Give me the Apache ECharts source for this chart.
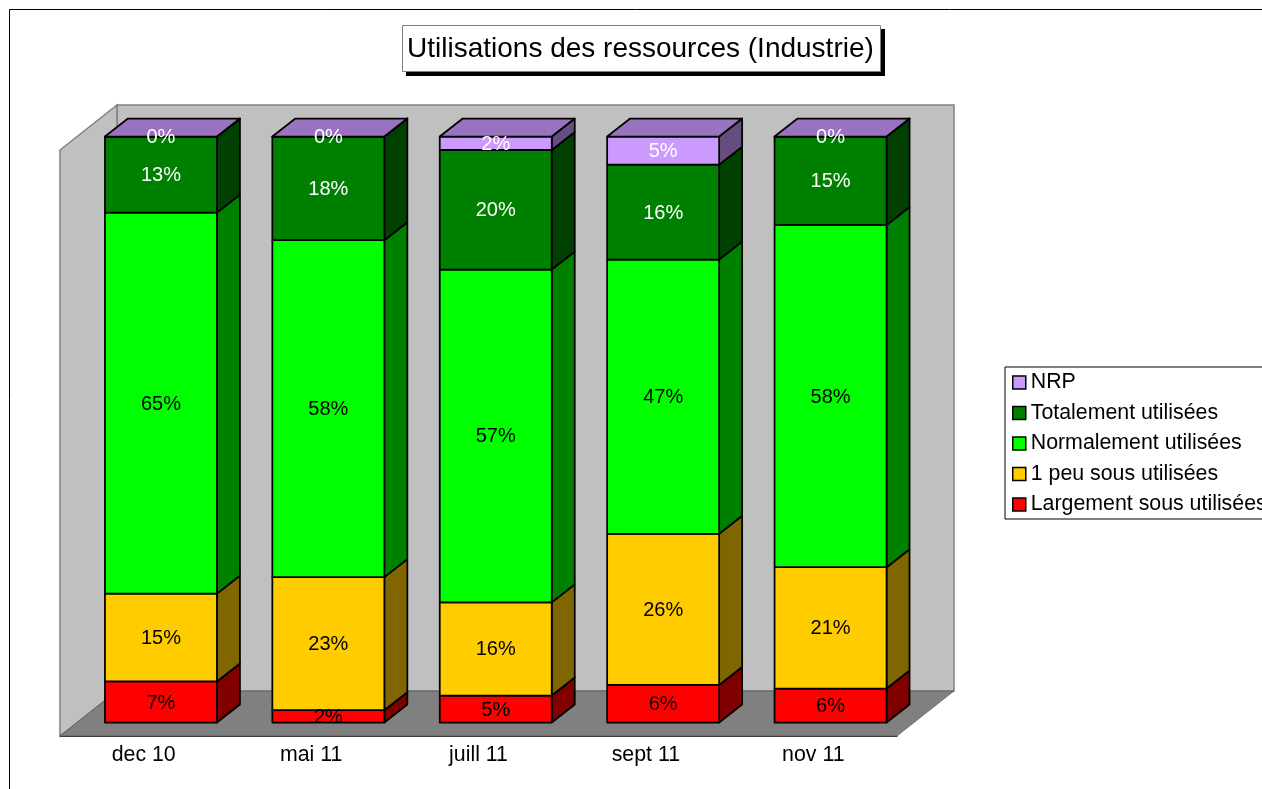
<!DOCTYPE html>
<html>
<head>
<meta charset="utf-8">
<title>Utilisations des ressources (Industrie)</title>
<script src="https://cdn.jsdelivr.net/npm/echarts@6/dist/echarts.min.js"></script>
<style>
    html, body { margin: 0; padding: 0; background: #fff; overflow: hidden; }
    #container { width: 1262px; height: 789px; }
</style>
</head>
<body>
<div id="container"></div>
<script>
var categories = ['dec 10', 'mai 11', 'juill 11', 'sept 11', 'nov 11'];

// valeurs, du bas vers le haut de la pile
var largement = [7.0, 2.1, 4.6, 6.4, 5.8];
var unPeu = [15.0, 22.7, 15.9, 25.8, 20.7];
var normalement = [65.0, 57.5, 56.8, 46.8, 58.4];
var totalement = [13.0, 17.7, 20.4, 16.2, 15.1];
var nrp = [0, 0, 2.3, 4.8, 0];

var stack = [largement, unPeu, normalement, totalement, nrp];
var names = ['Largement sous utilisées', '1 peu sous utilisées', 'Normalement utilisées', 'Totalement utilisées', 'NRP'];
var faceColors = ['#ff0000', '#ffcc00', '#00ff00', '#008000', '#cc99ff'];
var sideColors = ['#800000', '#806600', '#008000', '#004000', '#664d80'];
var labelColors = ['#000', '#000', '#000', '#fff', '#fff'];
var topColor = '#9973bf';

var fontName = '"Liberation Sans", Arial, sans-serif';
var wallDepth = [57, -45];
var barDepth = [23, -18];
var barShift = [17.25, -13.5];
var barRatio = 0.669;

var dom = document.getElementById('container');
var myChart = echarts.init(dom);

// mur du fond, mur gauche et sol
function renderWalls(params, api) {
    var p0 = api.coord([0, 0]);
    var p1 = api.coord([0, 100]);
    var band = api.size([1, 0])[0];
    var left = p0[0] - band / 2;
    var right = left + band * categories.length;
    var dx = wallDepth[0], dy = wallDepth[1];
    var wallStyle = { fill: '#c0c0c0', stroke: '#808080', lineWidth: 1.5 };
    return {
        type: 'group',
        children: [
            { type: 'polygon', shape: { points: [[left + dx, p1[1] + dy], [right + dx, p1[1] + dy], [right + dx, p0[1] + dy], [left + dx, p0[1] + dy]] }, style: wallStyle },
            { type: 'polygon', shape: { points: [[left, p1[1]], [left + dx, p1[1] + dy], [left + dx, p0[1] + dy], [left, p0[1]]] }, style: wallStyle },
            { type: 'polygon', shape: { points: [[left, p0[1]], [left + dx, p0[1] + dy], [right + dx, p0[1] + dy], [right, p0[1]]] }, style: { fill: '#808080', stroke: '#404040', lineWidth: 0.5 } }
        ]
    };
}

function makeRender(idx) {
    return function (params, api) {
        var cat = api.value(0);
        var val = api.value(1);
        var base = 0;
        for (var k = 0; k < idx; k++) {
            base += stack[k][cat];
        }
        var low = api.coord([cat, base]);
        var high = api.coord([cat, base + val]);
        var w = api.size([1, 0])[0] * barRatio;
        var x0 = low[0] + barShift[0] - w / 2;
        var x1 = x0 + w;
        var y0 = low[1] + barShift[1];
        var y1 = high[1] + barShift[1];
        var dx = barDepth[0], dy = barDepth[1];
        var line = { stroke: '#000', lineWidth: 1.75, lineJoin: 'round' };
        var children = [
            {
                type: 'polygon',
                shape: { points: [[x1, y1], [x1 + dx, y1 + dy], [x1 + dx, y0 + dy], [x1, y0]] },
                style: echarts.util.extend({ fill: sideColors[idx] }, line)
            },
            {
                type: 'rect',
                shape: { x: x0, y: y1, width: w, height: y0 - y1 },
                style: echarts.util.extend({ fill: faceColors[idx] }, line)
            }
        ];
        // le dessus de la barre
        if (idx === stack.length - 1) {
            children.push({
                type: 'polygon',
                shape: { points: [[x0, y1], [x0 + dx, y1 + dy], [x1 + dx, y1 + dy], [x1, y1]] },
                style: echarts.util.extend({ fill: topColor }, line)
            });
        }
        children.push({
            type: 'text',
            z2: 100,
            style: {
                text: Math.round(val) + '%',
                x: (x0 + x1) / 2,
                y: (y0 + y1) / 2 + 1,
                align: 'center',
                verticalAlign: 'middle',
                fill: labelColors[idx],
                font: '20px ' + fontName
            }
        });
        return { type: 'group', children: children };
    };
}

var series = [{
    type: 'custom',
    name: 'fond',
    silent: true,
    renderItem: renderWalls,
    data: [[0, 0]],
    encode: { x: 0, y: 1 }
}];

for (var s = 0; s < stack.length; s++) {
    series.push({
        type: 'custom',
        name: names[s],
        silent: true,
        itemStyle: { color: faceColors[s] },
        renderItem: makeRender(s),
        encode: { x: 0, y: 1 },
        data: stack[s].map(function (v, i) { return [i, v]; })
    });
}

var option = {
    animation: false,
    title: {
        text: 'Utilisations des ressources (Industrie)',
        left: 402,
        top: 25,
        padding: [10, 7, 9, 5],
        backgroundColor: '#fff',
        borderColor: '#808080',
        borderWidth: 1,
        textStyle: { fontFamily: fontName, fontSize: 28, fontWeight: 'normal', color: '#000' }
    },
    legend: {
        left: 1005,
        top: 367,
        orient: 'vertical',
        padding: [5, 8, 4, 7],
        itemWidth: 13,
        itemHeight: 13,
        itemGap: 9.5,
        icon: 'rect',
        backgroundColor: '#fff',
        borderColor: '#000',
        borderWidth: 1,
        borderRadius: 0,
        selectedMode: false,
        itemStyle: { borderColor: '#000', borderWidth: 1.5 },
        textStyle: { fontFamily: fontName, fontSize: 21.33, color: '#000' },
        data: ['NRP', 'Totalement utilisées', 'Normalement utilisées', '1 peu sous utilisées', 'Largement sous utilisées']
    },
    grid: { left: 60, right: 365, top: 150, bottom: 53, outerBoundsMode: 'none' },
    xAxis: {
        type: 'category',
        data: categories,
        axisLine: { show: true, lineStyle: { color: '#000', width: 1.5 } },
        axisTick: { show: false },
        axisLabel: { color: '#000', fontFamily: fontName, fontSize: 21.33, margin: 9 },
        splitLine: { show: false }
    },
    yAxis: { type: 'value', min: 0, max: 100, show: false, splitLine: { show: false } },
    graphic: [{
        // cadre extérieur, coupé par la fenêtre
        type: 'rect',
        shape: { x: 9.5, y: 9.5, width: 1400, height: 900 },
        style: { fill: 'none', stroke: '#000', lineWidth: 1 },
        silent: true
    }, {
        // ombre portée du titre
        type: 'rect',
        z: 1,
        shape: { x: 406, y: 29, width: 479, height: 47 },
        style: { fill: '#000' },
        silent: true
    }],
    series: series
};

myChart.setOption(option, true);
</script>
</body>
</html>
